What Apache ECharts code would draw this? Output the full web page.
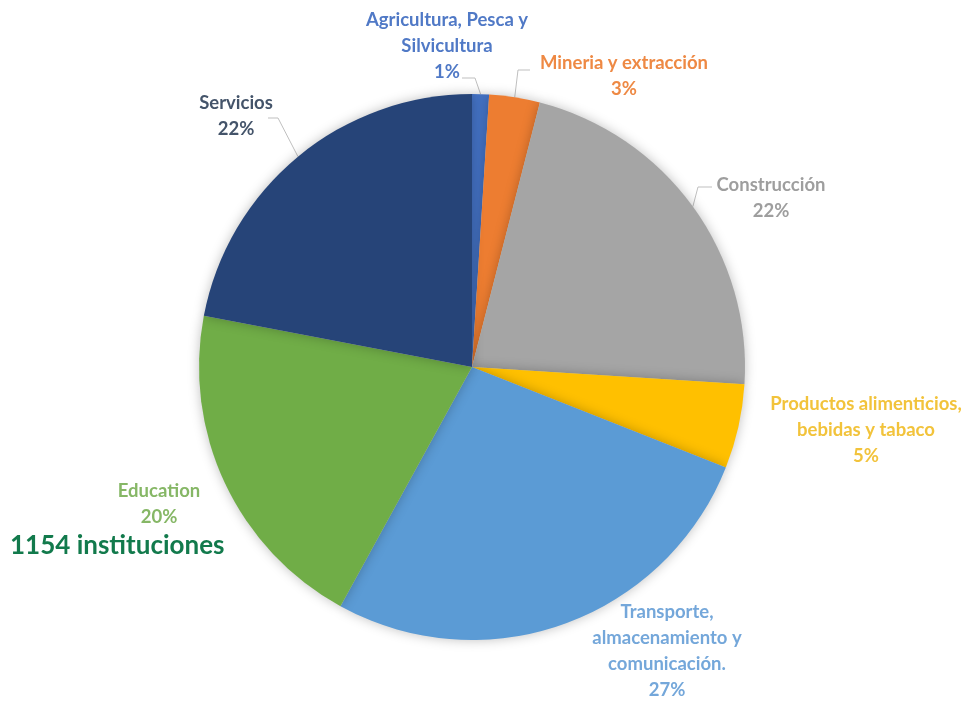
<!DOCTYPE html>
<html>
<head>
<meta charset="utf-8">
<script src="https://cdn.jsdelivr.net/npm/echarts@6/dist/echarts.min.js"></script>
<style>
html,body{margin:0;padding:0;background:#fff;}
#c{width:972px;height:703px;}
</style>
</head>
<body>
<div id="c"></div>
<script>
// ---- data ----
const categories = [
  "Agricultura, Pesca y\nSilvicultura",
  "Mineria y extracción",
  "Construcción",
  "Productos alimenticios,\nbebidas y tabaco",
  "Transporte,\nalmacenamiento y\ncomunicación.",
  "Education",
  "Servicios"
];
const values = [1, 3, 22, 5, 27, 20, 22];
const totalLabel = "1154 instituciones";

// ---- styles ----
const sliceColors = ["#4472C4", "#ED7D31", "#A5A5A5", "#FFC000", "#5B9BD5", "#70AD47", "#264478"];
const labelColors = ["#5079C6", "#EE8944", "#9E9E9E", "#F2C33B", "#74A7DA", "#86B766", "#44546A"];
// label centre positions (px) and optional label-line elbow/end
const labelPos = [[447, 46], [624, 76], [771, 198], [866, 430], [667, 651], [159, 504], [236, 116]];
const lineElbow = [[475, 78], [518, 70], [698, 187], [278, 118]];
const lineEnd = [[462, 78], [530, 70], [712, 187], [268, 118]];
const lineIdx = {0: 0, 1: 1, 2: 2, 6: 3};

const chart = echarts.init(document.getElementById('c'));
chart.setOption({
  animation: false,
  graphic: [{
    type: 'text', left: 10, top: 533,
    style: { text: totalLabel, fill: '#127A4C', font: 'bold 26px Lato' }
  }],
  series: [{
    type: 'pie',
    center: [472, 367],
    radius: 273,
    startAngle: 90,
    clockwise: true,
    data: categories.map((n, i) => ({
      name: n, value: values[i],
      itemStyle: { color: sliceColors[i] },
      label: { color: labelColors[i] },
      labelLine: { show: lineIdx[i] !== undefined }
    })),
    itemStyle: {
      borderWidth: 0,
      shadowBlur: 12, shadowColor: 'rgba(0,0,0,0.25)'
    },
    label: {
      show: true, position: 'outside',
      formatter: p => p.name + '\n' + p.value + '%',
      fontFamily: 'Lato', fontWeight: 'bold', fontSize: 18.5, lineHeight: 26,
      align: 'center', overflow: 'none', width: 260
    },
    labelLine: { show: true, lineStyle: { color: '#BFBFBF', width: 1 } },
    labelLayout: function (params) {
      const i = params.dataIndex;
      const res = { x: labelPos[i][0], y: labelPos[i][1], align: 'center', verticalAlign: 'middle' };
      const li = lineIdx[i];
      if (li !== undefined && params.labelLinePoints) {
        res.labelLinePoints = [params.labelLinePoints[0], lineElbow[li], lineEnd[li]];
      }
      return res;
    }
  }]
});
</script>
</body>
</html>
